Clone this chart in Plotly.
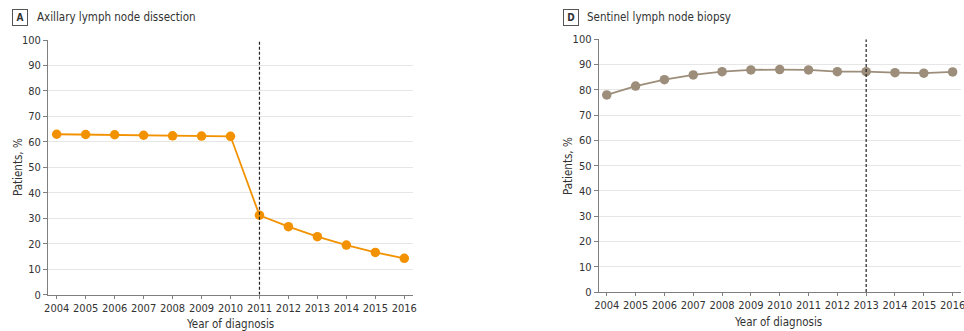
import plotly.graph_objects as go

W, H = 964, 331

years = list(range(2004, 2017))
axillary_pct = [63.0, 62.9, 62.8, 62.6, 62.4, 62.3, 62.2, 31.2, 26.7, 22.8, 19.5, 16.6, 14.3]
sentinel_pct = [78.0, 81.5, 84.0, 85.9, 87.2, 87.9, 88.0, 87.9, 87.2, 87.2, 86.8, 86.6, 87.1]
y_ticks = list(range(0, 101, 10))
axillary_cut_year = 2011
sentinel_cut_year = 2013

FONT = "DejaVu Sans Condensed, Liberation Sans Narrow, sans-serif"
ORANGE = "#F39200"
TAUPE = "#9C8E7A"
AXIS = "#7f7f7f"
GRID = "#e6e6e6"
TEXT = "#333333"


def px_x(p):
    return p / W


def px_y(p):
    return 1 - p / H


fig = go.Figure()

fig.add_trace(go.Scatter(
    x=years, y=axillary_pct, mode="lines+markers",
    line=dict(color=ORANGE, width=1.8),
    marker=dict(color=ORANGE, size=9.5),
    xaxis="x", yaxis="y", showlegend=False, hoverinfo="x+y",
))
fig.add_trace(go.Scatter(
    x=years, y=sentinel_pct, mode="lines+markers",
    line=dict(color=TAUPE, width=1.8),
    marker=dict(color=TAUPE, size=9.5),
    xaxis="x2", yaxis="y2", showlegend=False, hoverinfo="x+y",
))

common_x = dict(
    tickmode="array", tickvals=years, ticktext=[str(y) for y in years], tickangle=0,
    showgrid=False, zeroline=False, showline=True, linecolor=AXIS, linewidth=1,
    ticks="outside", ticklen=3, tickcolor=AXIS,
    tickfont=dict(family=FONT, size=11, color=TEXT),
    ticklabeloverflow="allow",
    automargin=False, fixedrange=True,
)
common_y = dict(
    tickmode="array", tickvals=y_ticks, range=[0, 100],
    showgrid=True, gridcolor=GRID, gridwidth=1, zeroline=False,
    showline=True, linecolor=AXIS, linewidth=1,
    ticks="outside", ticklen=4, tickcolor=AXIS,
    tickfont=dict(family=FONT, size=11, color=TEXT),
    automargin=False, fixedrange=True,
)

fig.update_layout(
    width=W, height=H,
    margin=dict(l=0, r=0, t=0, b=0, autoexpand=False),
    paper_bgcolor="white", plot_bgcolor="white",
    xaxis=dict(common_x, domain=[px_x(48), px_x(413)], range=[2003.70, 2016.30], anchor="y"),
    yaxis=dict(common_y, domain=[px_y(294.7), px_y(40)], anchor="x"),
    xaxis2=dict(common_x, domain=[px_x(598.7), px_x(960.7)], range=[2003.72, 2016.28], anchor="y2"),
    yaxis2=dict(common_y, domain=[px_y(292), px_y(39.3)], anchor="x2"),
)

# Dashed reference lines marking the guideline change year
for xr, yr, yr_x in (("x", "y", axillary_cut_year), ("x2", "y2", sentinel_cut_year)):
    fig.add_shape(type="line", xref=xr, yref=yr, x0=yr_x, x1=yr_x, y0=0, y1=100,
                  line=dict(color="#222222", width=1.2, dash="3px,2px"))

# Axis titles
for cx, cy in ((230, 324), (778, 322)):
    fig.add_annotation(x=px_x(cx), y=px_y(cy), xref="paper", yref="paper",
                       text="Year of diagnosis", showarrow=False,
                       xanchor="center", yanchor="middle",
                       font=dict(family=FONT, size=11.5, color=TEXT))
for cx, cy in ((18, 167), (568, 166)):
    fig.add_annotation(x=px_x(cx), y=px_y(cy), xref="paper", yref="paper",
                       text="Patients, %", showarrow=False, textangle=-90,
                       xanchor="center", yanchor="middle",
                       font=dict(family=FONT, size=11.5, color=TEXT))

# Panel labels: boxed letter followed by the panel title
panels = [("A", "Axillary lymph node dissection", 20, 35),
          ("D", "Sentinel lymph node biopsy", 570.5, 585)]
for letter, title, box_x, title_x in panels:
    fig.add_annotation(
        x=px_x(box_x), y=px_y(17.5), xref="paper", yref="paper",
        text=f"<b>{letter}</b>", showarrow=False, xanchor="center", yanchor="middle",
        font=dict(family=FONT, size=10, color=TEXT),
        bordercolor="#555555", borderwidth=1, borderpad=2, bgcolor="white",
        width=10, height=11,
    )
    fig.add_annotation(
        x=px_x(title_x), y=px_y(17.5), xref="paper", yref="paper",
        text=title, showarrow=False, xanchor="left", yanchor="middle",
        font=dict(family=FONT, size=11.5, color=TEXT),
    )

fig.write_html("out.html")
